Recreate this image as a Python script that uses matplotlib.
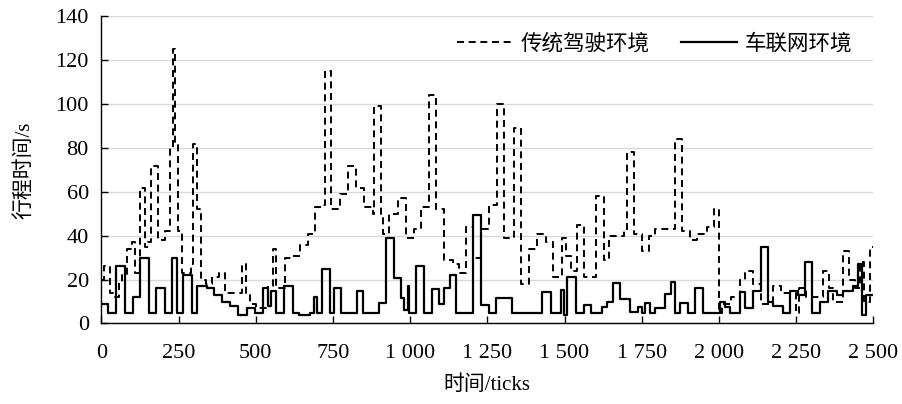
import matplotlib
matplotlib.use("Agg")
import matplotlib.pyplot as plt
from matplotlib.lines import Line2D

# ---- data (step series: tick at which value starts, value in s) ----
trad_ticks = [0, 8, 28, 45, 58, 68, 82, 98, 108, 125, 140, 152, 160, 182, 205, 224, 232, 240,
              248, 262, 290, 298, 310, 322, 340, 360, 380, 400, 440, 455, 468, 482, 500, 540,
              556, 567, 594, 616, 642, 669, 691, 718, 723, 745, 772, 799, 826, 852, 879, 884,
              906, 911, 933, 960, 987, 1014, 1035, 1062, 1084, 1111, 1138, 1159, 1181, 1202,
              1230, 1255, 1282, 1304, 1336, 1358, 1385, 1412, 1439, 1461, 1493, 1504, 1520,
              1541, 1563, 1601, 1628, 1644, 1692, 1702, 1724, 1751, 1773, 1794, 1859, 1880,
              1905, 1930, 1960, 1983, 2000, 2010, 2040, 2068, 2084, 2111, 2135, 2175, 2200,
              2250, 2260, 2283, 2337, 2355, 2370, 2400, 2420, 2440, 2455, 2470, 2488, 2500]
trad_time = [20, 26, 14, 12, 19, 22, 34, 37, 23, 62, 35, 37, 72, 38, 42, 80, 125, 82,
             42, 23, 27, 82, 52, 20, 18, 21, 23, 14, 14, 27, 14, 9, 7, 17,
             34, 16, 30, 31, 36, 41, 53, 54, 115, 52, 59, 72, 62, 53, 50, 99,
             50, 41, 50, 57, 39, 43, 53, 104, 52, 29, 27, 23, 44, 30,
             43, 54, 100, 39, 89, 18, 34, 41, 37, 21, 39, 31, 24,
             45, 21, 58, 29, 40, 42, 78, 41, 33, 40, 43, 84, 42,
             38, 41, 44, 52, 5, 9, 12, 20, 24, 18, 9, 17, 14,
             5, 16, 12, 24, 16, 10, 33, 20, 16, 28, 10, 35, 35]

iov_ticks = [0, 23, 48, 77, 104, 125, 155, 177, 206, 228, 246, 266, 293, 310, 343, 365, 390,
             418, 443, 471, 497, 524, 540, 550, 565, 593, 620, 640, 675, 690, 700, 714, 740,
             752, 775, 827, 846, 900, 922, 949, 971, 981, 992, 997, 1019, 1046, 1071, 1095,
             1110, 1128, 1147, 1202, 1230, 1255, 1277, 1331, 1428, 1455, 1488, 1498, 1509,
             1536, 1563, 1585, 1622, 1638, 1658, 1680, 1712, 1739, 1750, 1760, 1777, 1793,
             1825, 1846, 1858, 1874, 1901, 1922, 1949, 2003, 2020, 2036, 2068, 2084, 2111,
             2135, 2158, 2176, 2208, 2230, 2257, 2278, 2300, 2327, 2354, 2381, 2403, 2435,
             2451, 2462, 2475, 2500]
iov_time = [9, 5, 26, 5, 12, 30, 5, 16, 5, 30, 5, 22, 5, 17, 16, 13, 10,
            8, 4, 7, 5, 16, 8, 15, 5, 17, 5, 4, 5, 12, 5, 25, 5,
            16, 5, 15, 5, 9.5, 39, 20.6, 11.5, 6, 17, 5, 26, 5, 15.6, 9,
            16, 22, 5, 49.5, 8.5, 5, 11.5, 5, 14.5, 5, 15.3, 4, 21,
            5, 8.5, 5, 7.7, 10, 18.3, 11, 5.4, 7.7, 4.6, 9.2, 5, 7,
            13.5, 19, 4.6, 9.5, 4.6, 16, 5, 10, 7.7, 5, 14.5, 7, 15,
            35, 10, 8, 5, 15, 13, 28, 5, 10, 15, 13, 15, 17,
            27, 4, 13, 13]

x_ticks = [0, 250, 500, 750, 1000, 1250, 1500, 1750, 2000, 2250, 2500]
x_tick_labels = ["0", "250", "500", "750", "1 000", "1 250", "1 500", "1 750",
                 "2 000", "2 250", "2 500"]
y_ticks = [0, 20, 40, 60, 80, 100, 120, 140]

series_labels = ["传统驾驶环境", "车联网环境"]
x_label = "时间/ticks"
y_label = "行程时间/s"

# ---- figure ----
serif = "Liberation Serif"
mixed = [serif, "Noto Sans CJK SC"]
plt.rcParams["font.family"] = mixed

fig = plt.figure(figsize=(9.02, 4.04), dpi=100)
ax = fig.add_axes([0.1123, 0.1993, 0.8560, 0.7599])

lw = 1.4
ax.step(trad_ticks, trad_time, where="post", color="black", lw=lw,
        linestyle=(0, (3.6, 2.4)), zorder=3)
ax.step(iov_ticks, iov_time, where="post", color="black", lw=lw + 0.2,
        linestyle="-", zorder=4)

ax.set_xlim(0, 2500)
ax.set_ylim(0, 140)
ax.set_xticks(x_ticks)
ax.set_xticklabels(x_tick_labels, fontfamily=serif, fontsize=16)
ax.set_yticks(y_ticks)
ax.set_yticklabels([str(v) for v in y_ticks], fontfamily=serif, fontsize=16)
ax.tick_params(axis="both", direction="in", length=5, width=1, color="black")
ax.tick_params(axis="x", pad=15)
ax.tick_params(axis="y", pad=9)

ax.grid(axis="y", color="#d9d9d9", lw=1.0)
ax.set_axisbelow(True)
for s in ("top", "right"):
    ax.spines[s].set_visible(False)
for s in ("left", "bottom"):
    ax.spines[s].set_linewidth(1.0)

ax.set_xlabel(x_label, fontsize=15, labelpad=9, family=mixed)
ax.set_ylabel(y_label, fontsize=15, labelpad=15, family=mixed)

handles = [Line2D([], [], color="black", lw=lw, linestyle=(0, (3.6, 2.4))),
           Line2D([], [], color="black", lw=lw + 0.2)]
ax.legend(handles, series_labels, ncol=2, frameon=False, loc="upper right",
          bbox_to_anchor=(0.998, 1.012), prop={"family": "Noto Sans CJK SC", "size": 15.5},
          handlelength=2.6, columnspacing=1.5, handletextpad=0.35)

fig.savefig("out.png", dpi=100)
